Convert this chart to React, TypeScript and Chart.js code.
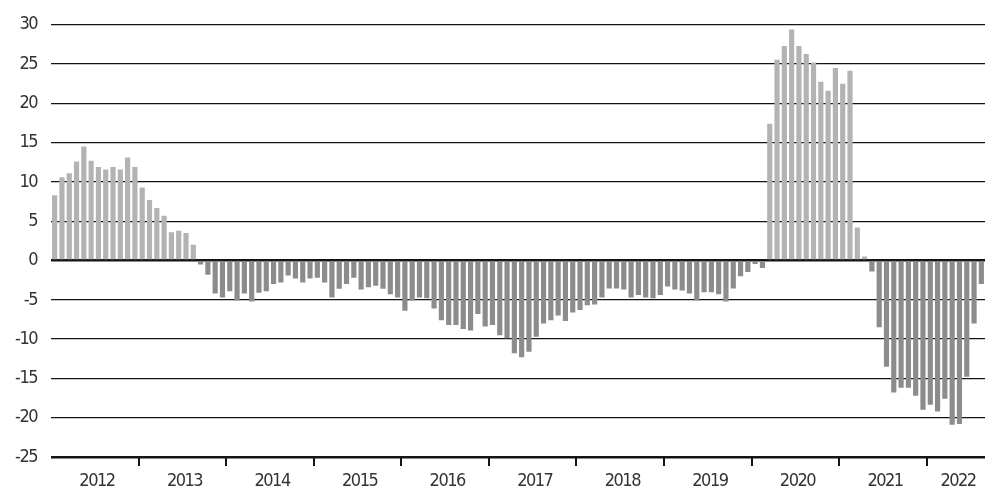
import { useEffect, useRef } from 'react';
import { Chart, registerables } from 'chart.js';

Chart.register(...registerables);

const yearLabels = ['2012', '2013', '2014', '2015', '2016', '2017', '2018', '2019', '2020', '2021', '2022'];

// Monthly values, Jan 2012 – Aug 2022
const monthlyValues = [
  8.3, 10.6, 11.1, 12.6, 14.5, 12.7, 11.9, 11.6, 11.9, 11.6, 13.1, 11.9,
  9.3, 7.7, 6.7, 5.7, 3.6, 3.8, 3.5, 2.0, -0.5, -1.8, -4.2, -4.7,
  -3.9, -5.1, -4.2, -5.2, -4.1, -3.9, -3.0, -2.8, -1.9, -2.3, -2.8, -2.3,
  -2.2, -2.8, -4.7, -3.6, -3.0, -2.2, -3.7, -3.4, -3.2, -3.6, -4.3, -4.7,
  -6.4, -5.1, -4.7, -4.8, -6.1, -7.6, -8.2, -8.2, -8.7, -8.9, -6.8, -8.4,
  -8.2, -9.5, -9.9, -11.8, -12.3, -11.6, -9.7, -8.0, -7.6, -7.0, -7.7, -6.6,
  -6.3, -5.7, -5.6, -4.7, -3.55, -3.55, -3.7, -4.7, -4.4, -4.7, -4.8, -4.4,
  -3.3, -3.7, -3.8, -4.2, -5.1, -4.05, -4.05, -4.3, -5.2, -3.55, -2.0, -1.45,
  -0.45, -0.95, 17.4, 25.55, 27.3, 29.4, 27.3, 26.3, 25.2, 22.75, 21.6, 24.5,
  22.5, 24.15, 4.2, 0.5, -1.4, -8.5, -13.5, -16.8, -16.2, -16.2, -17.2, -19.0,
  -18.35, -19.2, -17.6, -20.9, -20.8, -14.8, -8.0, -3.0,
];

const Y_MIN = -25;
const Y_MAX = 30;
const Y_STEP = 5;

const LIGHT = '#b3b3b3';
const DARK = '#8c8c8c';
const LINE = '#141414';
const TEXT = '#333333';
const FONT = '"DejaVu Sans Condensed", "Liberation Sans", sans-serif';

const condensedText = {
  id: 'condensedText',
  beforeDraw(chart: any) {
    try {
      chart.ctx.letterSpacing = '-1.5px';
    } catch (e) {
      /* ignore */
    }
  },
};

export default function App() {
  const canvasRef = useRef<HTMLCanvasElement | null>(null);

  useEffect(() => {
    const canvas = canvasRef.current;
    if (!canvas) return;
    const n = monthlyValues.length;
    const xMin = -0.5;
    const xMax = n - 0.5;
    const boundaryTicks = yearLabels.slice(1).map((_, i) => (i + 1) * 12 - 0.5);
    const labelTicks = yearLabels.map((_, i) => {
      const start = i * 12 - 0.5;
      const end = Math.min((i + 1) * 12, n) - 0.5;
      return (start + end) / 2 + 0.3;
    });

    const chart = new Chart(canvas, {
      type: 'bar',
      data: {
        datasets: [
          {
            data: monthlyValues.map((v, i) => ({ x: i, y: v })),
            backgroundColor: monthlyValues.map((v) => (v >= 0 ? LIGHT : DARK)),
            borderWidth: 0,
            categoryPercentage: 1,
            barPercentage: 0.71,
            xAxisID: 'x',
            yAxisID: 'y',
          },
        ],
      },
      plugins: [condensedText],
      options: {
        animation: false,
        responsive: true,
        maintainAspectRatio: false,
        layout: { padding: { top: 24, right: 0, left: 0, bottom: 0 } },
        plugins: { legend: { display: false }, tooltip: { enabled: false } },
        scales: {
          x: {
            type: 'linear',
            position: 'bottom',
            offset: false,
            weight: 0,
            min: xMin,
            max: xMax,
            afterBuildTicks: (scale: any) => {
              scale.ticks = boundaryTicks.map((v) => ({ value: v }));
            },
            afterFit: (scale: any) => {
              scale.height = 9;
            },
            ticks: { display: false },
            grid: {
              display: true,
              offset: false,
              drawOnChartArea: false,
              drawTicks: true,
              tickLength: 9,
              color: LINE,
              lineWidth: 2,
            },
            border: { display: false },
          },
          x2: {
            type: 'linear',
            position: 'bottom',
            offset: false,
            weight: 1,
            min: xMin,
            max: xMax,
            afterBuildTicks: (scale: any) => {
              scale.ticks = labelTicks.map((v) => ({ value: v }));
            },
            afterFit: (scale: any) => {
              scale.height = 26;
            },
            ticks: {
              autoSkip: false,
              maxRotation: 0,
              padding: 5,
              color: TEXT,
              font: { family: FONT, size: 18 },
              callback: (_v: any, i: number) => yearLabels[i],
            },
            grid: { display: false, drawTicks: false, offset: false },
            border: { display: false },
          },
          y: {
            min: Y_MIN,
            max: Y_MAX,
            z: 1,
            afterFit: (scale: any) => {
              scale.width = 51;
            },
            ticks: {
              stepSize: Y_STEP,
              padding: 14,
              color: TEXT,
              font: { family: FONT, size: 18 },
              callback: (v: any) => String(v),
            },
            grid: {
              drawTicks: false,
              color: LINE,
              lineWidth: (ctx: any) =>
                ctx.tick && (ctx.tick.value === 0 || ctx.tick.value === Y_MIN) ? 2.6 : 1.3,
            },
            border: { display: false },
          },
        },
      },
    } as any);

    return () => chart.destroy();
  }, []);

  return (
    <div style={{ position: 'fixed', left: 0, top: 0, width: 985, height: 492, background: '#fff' }}>
      <canvas ref={canvasRef} />
    </div>
  );
}
